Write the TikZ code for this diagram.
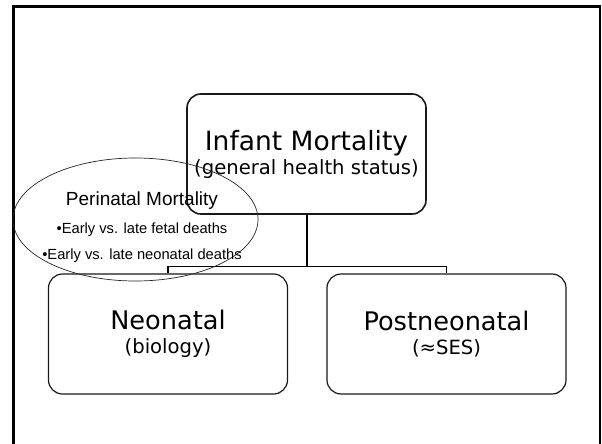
\documentclass[tikz,border=0pt]{standalone}
\usepackage{fontspec}
\setmainfont{DejaVu Sans}
\newfontfamily\arialfont{Liberation Sans}
\usetikzlibrary{shapes.geometric}

\begin{document}
\begin{tikzpicture}[x=1pt,y=-1pt,
  mbox/.style={draw=black!90,rounded corners=14pt,minimum width=239pt,
               minimum height=120pt,inner sep=0pt,align=center,
               font=\fontsize{19.6}{24}\selectfont}]
\useasboundingbox (0,0) rectangle (602,444);
% slide frame
\draw[line width=2.8pt] (13.5,444) -- (13.5,6.5) -- (600,6.5) -- (600,444);

\node[mbox,line width=1.6pt] (infant) at (306.5,154)
  {\fontsize{26.5}{24}\selectfont Infant Mortality\\
   (general health status)};
\node[mbox,line width=1.2pt] (neonatal) at (168,334)
  {\fontsize{25.6}{24}\selectfont Neonatal\\
   (biology)};
\node[mbox,line width=1.2pt] (postneo) at (446.5,334)
  {\fontsize{25.6}{24}\selectfont Postneonatal\\
   (≈SES)};

\draw[line width=2pt] (infant.south) -- ++(0,52) coordinate (bus);
\draw[line width=1.2pt] (neonatal.north) |- (bus) -| (postneo.north);

% perinatal oval
\node[draw=black!85,line width=0.7pt,ellipse,minimum width=245pt,
      minimum height=123pt,inner sep=0pt] (perinatal) at (135.5,219.5) {};
\node[anchor=north,inner sep=0pt,align=center,
      font=\arialfont\fontsize{14.7}{26}\selectfont] (perinatal-text) at (142,191.4)
  {\fontsize{19}{26}\selectfont Perinatal Mortality\\[2pt]
   •Early vs. late fetal deaths\\
   •Early vs. late neonatal deaths};
\end{tikzpicture}
\end{document}
